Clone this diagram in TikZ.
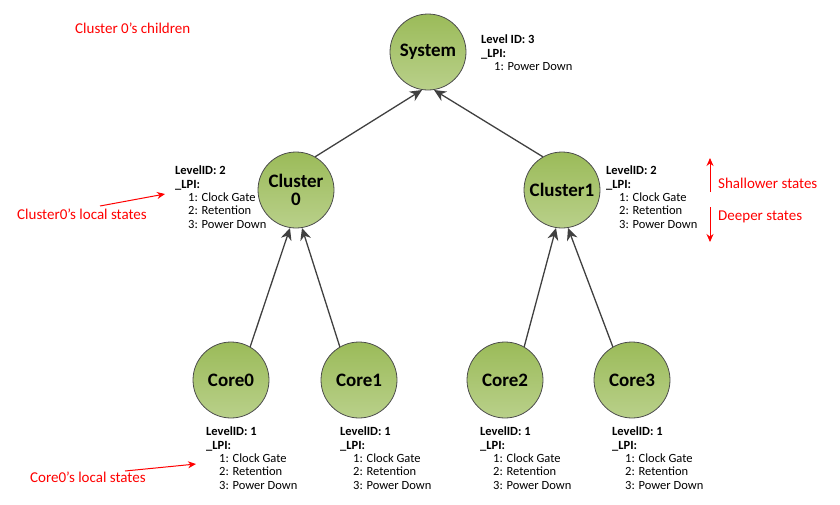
\documentclass[tikz,border=0pt]{standalone}
\usepackage{fontspec}
\setmainfont{Carlito}
\usetikzlibrary{arrows.meta}
\definecolor{ntop}{HTML}{9BBB59}
\definecolor{nbot}{HTML}{B9D08A}
\begin{document}
\begin{tikzpicture}[x=1pt,y=-1pt,
  st/.style={circle,draw=black!70,line width=0.8pt,minimum size=76pt,inner sep=0pt,top color=ntop,bottom color=nbot,font=\fontsize{19}{19}\selectfont\bfseries},
  edge/.style={draw=black!75,line width=1.3pt,-{Stealth[length=12pt,width=11pt]}},
  info/.style={anchor=north west,align=left,inner sep=0pt,font=\fontsize{12.5}{13.3}\selectfont},
  red/.style={text=red,font=\fontsize{15}{15}\selectfont,anchor=west,inner sep=0pt},
  rarr/.style={draw=red,line width=1pt,-{Stealth[length=8pt,width=7pt]}}]
\useasboundingbox (0,0) rectangle (840,504);
\node[st] (sys) at (428,52) {System};
\node[st] (c0) at (296,190) {\shortstack{Cluster\\[2pt]0}};
\node[st] (c1) at (562,190) {Cluster1};
\node[st] (k0) at (231,380) {Core0};
\node[st] (k1) at (359,380) {Core1};
\node[st] (k2) at (505,380) {Core2};
\node[st] (k3) at (632,380) {Core3};
\coordinate (sA) at (422,90); \coordinate (sB) at (434,90);
\coordinate (cA) at (290,228); \coordinate (cB) at (302,228);
\coordinate (dA) at (556,228); \coordinate (dB) at (568,228);
\draw[edge] (c0.60) -- (sA);
\draw[edge] (c1.120) -- (sB);
\draw[edge] (k0.60) -- (cA);
\draw[edge] (k1.120) -- (cB);
\draw[edge] (k2.60) -- (dA);
\draw[edge] (k3.120) -- (dB);
\newcommand{\lpiinfo}[1]{\textbf{#1}\\\textbf{\_LPI:}\\\hspace{13pt}1: Clock Gate\\\hspace{13pt}2: Retention\\\hspace{13pt}3: Power Down}
\node[info] (isys) at (481,35) {\textbf{Level ID: 3}\\\textbf{\_LPI:}\\\hspace{13pt}1: Power Down};
\node[info] (ic0) at (175,166) {\lpiinfo{LevelID: 2}};
\node[info] (ic1) at (606,166) {\lpiinfo{LevelID: 2}};
\node[info] (ik0) at (206,427) {\lpiinfo{LevelID: 1}};
\node[info] (ik1) at (340,427) {\lpiinfo{LevelID: 1}};
\node[info] (ik2) at (480,427) {\lpiinfo{LevelID: 1}};
\node[info] (ik3) at (612,427) {\lpiinfo{LevelID: 1}};
\node[red] (t1) at (75,28) {Cluster 0's children};
\node[red] (t2) at (17,214) {Cluster0's local states};
\node[red] (t3) at (30,477) {Core0's local states};
\node[red] (t4) at (718,183) {Shallower states};
\node[red] (t5) at (718,217) {Deeper states};
\coordinate (a2s) at (100,206); \coordinate (a2) at (165,194);
\coordinate (a3s) at (125,471); \coordinate (a3) at (196,464);
\draw[rarr] (a2s) -- (a2);
\draw[rarr] (a3s) -- (a3);
\coordinate (u1) at (710,192); \coordinate (u2) at (710,158);
\coordinate (d1) at (710,207); \coordinate (d2) at (710,242);
\draw[rarr] (u1) -- (u2);
\draw[rarr] (d1) -- (d2);
\end{tikzpicture}
\end{document}
